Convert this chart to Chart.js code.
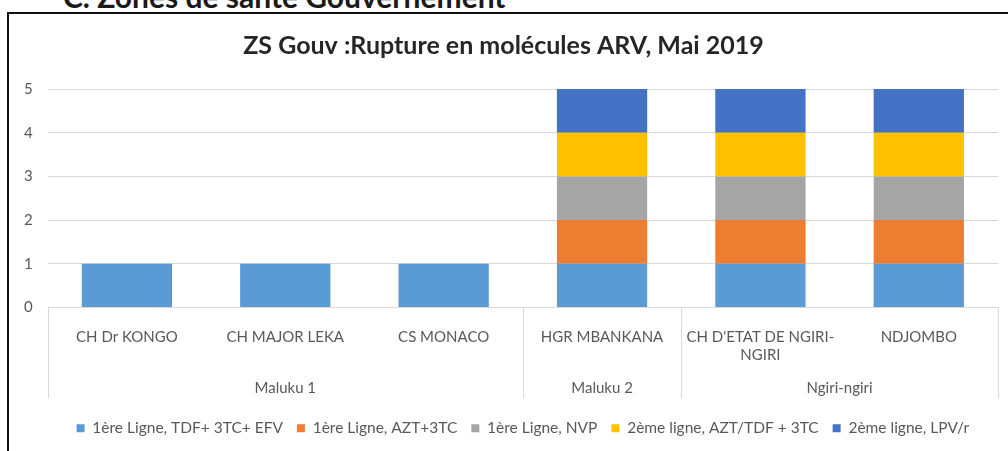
<!DOCTYPE html>
<html>
<head>
<meta charset="utf-8">
<script src="https://cdn.jsdelivr.net/npm/chart.js@4"></script>
<style>
  body { margin: 0; background: #fff; overflow: hidden; width: 1008px; height: 451px; position: relative; }
  .heading { position: absolute; left: 63px; top: -22px; font: bold 30px Lato, sans-serif; color: #1a1a1a; white-space: nowrap; }
  .frame { position: absolute; left: 7px; top: 12px; width: 1040px; height: 460px; border: 2px solid #111; box-sizing: border-box; }
  .chart__box { position: absolute; left: 9px; top: 14px; width: 996px; height: 437px; }
</style>
</head>
<body>
<div class="heading">C. Zones de santé Gouvernement</div>
<div class="frame"></div>
<div class="chart__box"><canvas id="rupture__chart"></canvas></div>
<script>
// Sites (categories) and their health zones
const sites = ['CH Dr KONGO', 'CH MAJOR LEKA', 'CS MONACO', 'HGR MBANKANA', ["CH D'ETAT DE NGIRI-", 'NGIRI'], 'NDJOMBO'];
const zones = ['Maluku 1', 'Maluku 2', 'Ngiri-ngiri'];
const zoneSizes = [3, 1, 2];

// Molecules in rupture (1 = rupture)
const seriesNames = [
  '1ère Ligne, TDF+ 3TC+ EFV',
  '1ère Ligne, AZT+3TC',
  '1ère Ligne, NVP',
  '2ème ligne, AZT/TDF + 3TC',
  '2ème ligne, LPV/r'
];
const tdf3tcEfv = [1, 1, 1, 1, 1, 1];
const azt3tc = [0, 0, 0, 1, 1, 1];
const nvp = [0, 0, 0, 1, 1, 1];
const aztTdf3tc = [0, 0, 0, 1, 1, 1];
const lpvR = [0, 0, 0, 1, 1, 1];
const yTicks = [0, 1, 2, 3, 4, 5];

const colors = ['#5B9BD5', '#ED7D31', '#A5A5A5', '#FFC000', '#4472C4'];
const seriesValues = [tdf3tcEfv, azt3tc, nvp, aztTdf3tc, lpvR];

const FONT = 'Lato, sans-serif';
const GRAY = '#595959';

// Draws the zone row under the site labels, with separators
const zonePlugin = {
  id: 'zoneLabels',
  afterDraw(chart) {
    const ctx = chart.ctx;
    const x = chart.scales.x;
    const bottom = chart.chartArea.bottom;
    const half = (x.getPixelForValue(1) - x.getPixelForValue(0)) / 2;
    ctx.save();
    ctx.strokeStyle = '#d9d9d9';
    ctx.lineWidth = 1;
    ctx.fillStyle = GRAY;
    ctx.font = '15px ' + FONT;
    ctx.textAlign = 'center';
    ctx.textBaseline = 'middle';
    let start = 0;
    const edges = [x.getPixelForValue(0) - half];
    zones.forEach((zone, i) => {
      const end = start + zoneSizes[i] - 1;
      const left = x.getPixelForValue(start) - half;
      const right = x.getPixelForValue(end) + half;
      edges.push(right);
      ctx.fillText(zone, (left + right) / 2, bottom + 81);
      start = end + 1;
    });
    edges.forEach(px => {
      const p = Math.round(px) + 0.5;
      ctx.beginPath();
      ctx.moveTo(p, bottom);
      ctx.lineTo(p, bottom + 91);
      ctx.stroke();
    });
    ctx.restore();
  }
};

const ctx = document.getElementById('rupture__chart').getContext('2d');
const ruptureChart = new Chart(ctx, {
  type: 'bar',
  data: {
    labels: sites,
    datasets: seriesNames.map((name, i) => ({
      label: name,
      data: seriesValues[i],
      backgroundColor: colors[i],
      borderWidth: 0,
      categoryPercentage: 1,
      barPercentage: 0.57
    }))
  },
  options: {
    responsive: true,
    maintainAspectRatio: false,
    animation: false,
    layout: { padding: { left: 0, right: 7, bottom: 5 } },
    scales: {
      x: {
        stacked: true,
        grid: { display: false },
        border: { display: false },
        ticks: { color: GRAY, font: { family: FONT, size: 15 }, padding: 13, maxRotation: 0, autoSkip: false },
        afterFit: (scale) => { scale.height = 99; }
      },
      y: {
        stacked: true,
        min: 0,
        max: 5,
        afterBuildTicks: (scale) => { scale.ticks = yTicks.map(v => ({ value: v })); },
        grid: { color: '#d9d9d9', drawTicks: false },
        border: { display: false },
        ticks: { color: GRAY, font: { family: FONT, size: 15 }, padding: 15 }
      }
    },
    plugins: {
      title: {
        display: true,
        text: 'ZS Gouv :Rupture en molécules ARV, Mai 2019',
        color: '#262626',
        font: { family: FONT, size: 25, weight: 'bold' },
        padding: { top: 17, bottom: 28 }
      },
      legend: {
        position: 'bottom',
        fullSize: false,
        labels: { color: GRAY, font: { family: FONT, size: 15.5 }, boxWidth: 8, boxHeight: 8, padding: 14 }
      },
      tooltip: { enabled: false }
    }
  },
  plugins: [zonePlugin]
});
</script>
</body>
</html>
